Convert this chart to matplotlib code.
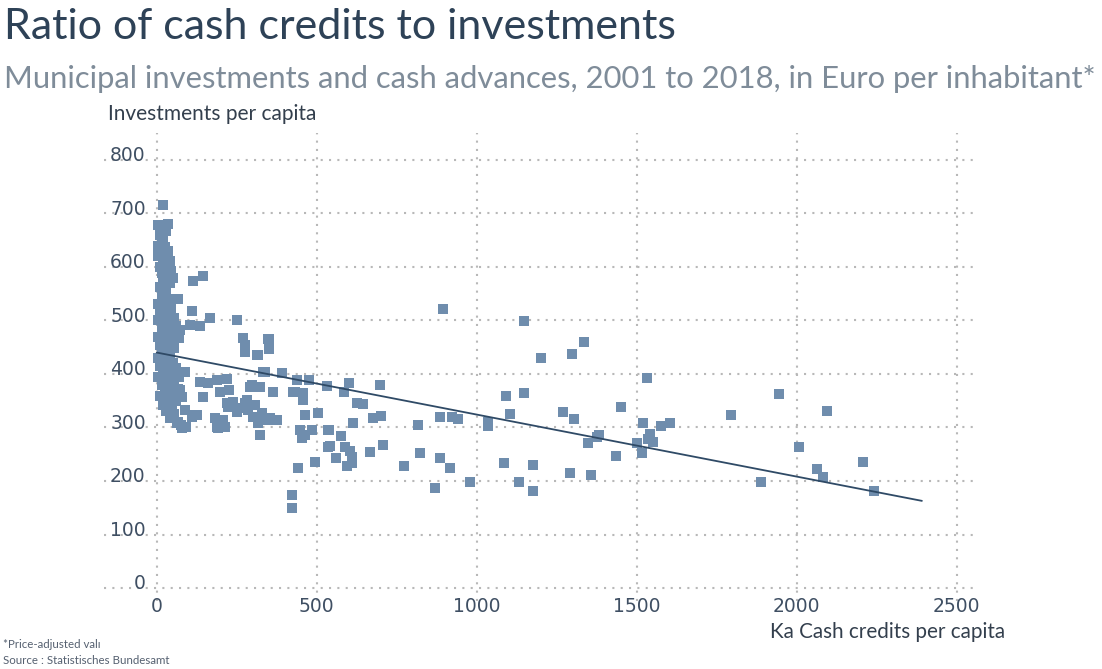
import numpy as np
import matplotlib
matplotlib.use('Agg')
import matplotlib.pyplot as plt

# cash credits per capita (x) and investments per capita (y)
credits = [
    19, 5, 25, 35, 10, 20, 30, 5, 15, 25, 35, 5, 18, 30, 40, 10, 25, 45, 15, 35,
    50, 20, 40, 10, 30, 15, 40, 65, 5, 25, 45, 10, 30, 55, 5, 20, 40, 60, 15, 35,
    50, 5, 25, 45, 70, 10, 30, 55, 15, 40, 5, 25, 50, 10, 35, 60, 20, 45, 5, 30,
    55, 70, 15, 40, 65, 25, 50, 10, 35, 60, 20, 45, 30, 55, 40, 65, 75, 90,
    112, 144, 110, 103, 134, 166, 250, 72, 269, 275, 275, 316, 350, 350,
    87, 134, 159, 187, 219, 197, 225, 144, 78, 72, 47, 87, 109, 125, 62, 78,
    181, 206, 187, 219, 237, 259, 281, 284, 306, 300, 316, 322, 344, 375,
    331, 391, 322, 362, 297, 31, 119, 191, 212, 222, 250, 275, 291, 328, 353,
    425, 456, 462, 447, 462, 484, 503, 534, 534, 494, 441, 422, 422,
    894, 347, 312, 338, 391, 437, 475, 531, 600, 584, 697, 431, 456, 625, 644,
    675, 700, 612, 816, 884, 922, 941, 1034, 1034, 453, 537, 575, 541, 587,
    603, 609, 609, 594, 559, 706, 666, 822, 884, 916, 772, 869, 978,
    1147, 1334, 1297, 1200, 1531, 1091, 1147, 1944, 1103, 1269, 1303, 1450,
    1794, 2094, 1519, 1575, 1603, 1381, 1375, 1347, 1541, 1534, 1550, 1500,
    1516, 1434, 2006, 2206, 2063, 2081, 2241, 1888, 1084, 1175, 1291, 1356,
    1131, 1175,
]
invest = [
    715, 678, 678, 680, 660, 655, 668, 640, 645, 638, 630, 620, 615, 620, 612, 600, 598, 592, 588, 585,
    580, 575, 570, 562, 557, 545, 540, 540, 530, 528, 522, 515, 510, 505, 500, 497, 495, 490, 485, 480,
    475, 470, 465, 460, 468, 455, 450, 448, 440, 435, 430, 425, 420, 415, 410, 412, 400, 398, 395, 390,
    385, 395, 380, 375, 372, 365, 360, 358, 350, 350, 342, 338, 330, 325, 318, 310, 305, 300,
    574, 583, 518, 492, 490, 505, 501, 482, 467, 454, 441, 435, 465, 447,
    404, 385, 383, 389, 391, 366, 370, 357, 357, 370, 338, 333, 320, 323, 308, 299,
    318, 314, 301, 346, 348, 336, 351, 333, 342, 320, 308, 286, 314, 314,
    404, 402, 376, 366, 379, 348, 323, 299, 301, 338, 329, 346, 376, 327, 318,
    366, 364, 323, 295, 286, 295, 327, 295, 264, 236, 224, 174, 150,
    521, 465, 435, 404, 402, 389, 389, 378, 383, 366, 379, 366, 351, 346, 344,
    318, 321, 308, 305, 320, 320, 316, 310, 303, 280, 295, 284, 265, 264,
    256, 245, 234, 228, 243, 267, 254, 252, 243, 224, 228, 187, 198,
    499, 460, 437, 430, 393, 359, 364, 363, 325, 329, 316, 338,
    323, 331, 308, 303, 308, 286, 282, 271, 288, 278, 273, 271,
    252, 247, 264, 236, 222, 207, 181, 198, 234, 230, 215, 211,
    198, 181,
]

# trend line as drawn in the chart
trend_x = [0, 2390]
trend_y = [440, 163]

x_ticks = [0, 500, 1000, 1500, 2000, 2500]
y_ticks = [0, 100, 200, 300, 400, 500, 600, 700, 800]

fig = plt.figure(figsize=(11.02, 6.69), dpi=100)
ax = fig.add_axes([0.0944, 0.101, 0.7913, 0.700])

ax.scatter(credits, invest, marker='s', s=62, color='#6f8dad', linewidths=0, zorder=3)
ax.plot(trend_x, trend_y, color='#2f4a66', lw=1.3, zorder=4)

ax.set_xlim(-165, 2560)
ax.set_ylim(-25, 850)
ax.set_xticks(x_ticks)
ax.set_yticks(y_ticks)
ax.grid(True, color='#b8b8b8', linestyle=(0, (1, 3)), lw=1.5)
ax.tick_params(length=0, labelbottom=False, labelleft=False)
for s in ax.spines.values():
    s.set_visible(False)

tick_col = '#3f4f63'
for v in y_ticks:
    ax.annotate(str(v), xy=(0, v), xytext=(-8, 3), textcoords='offset points',
                ha='right', va='center', fontsize=13.5, color=tick_col)
for v in x_ticks:
    ax.annotate(str(v), xy=(v, 0), xytext=(0, -13), textcoords='offset points',
                ha='center', va='center', fontsize=13.5, color=tick_col)

fig.text(0.004, 0.960, 'Ratio of cash credits to investments', fontsize=31,
         family='Lato', color='#2e4257', va='center')
fig.text(0.004, 0.882, 'Municipal investments and cash advances, 2001 to 2018, in Euro per inhabitant*',
         fontsize=22.3, family='Lato', color='#7f8c99', va='center')
fig.text(0.098, 0.83, 'Investments per capita', fontsize=15, family='Lato',
         color='#333f4d', va='center')
fig.text(0.699, 0.055, 'Ka Cash credits per capita', fontsize=14.9, family='Lato',
         color='#333f4d', va='center')
fig.text(0.003, 0.036, '*Price-adjusted valı', fontsize=8.3, family='Lato',
         color='#556070', va='center')
fig.text(0.003, 0.013, 'Source : Statistisches Bundesamt', fontsize=8.3, family='Lato',
         color='#556070', va='center')

fig.savefig('out.png', dpi=100)
